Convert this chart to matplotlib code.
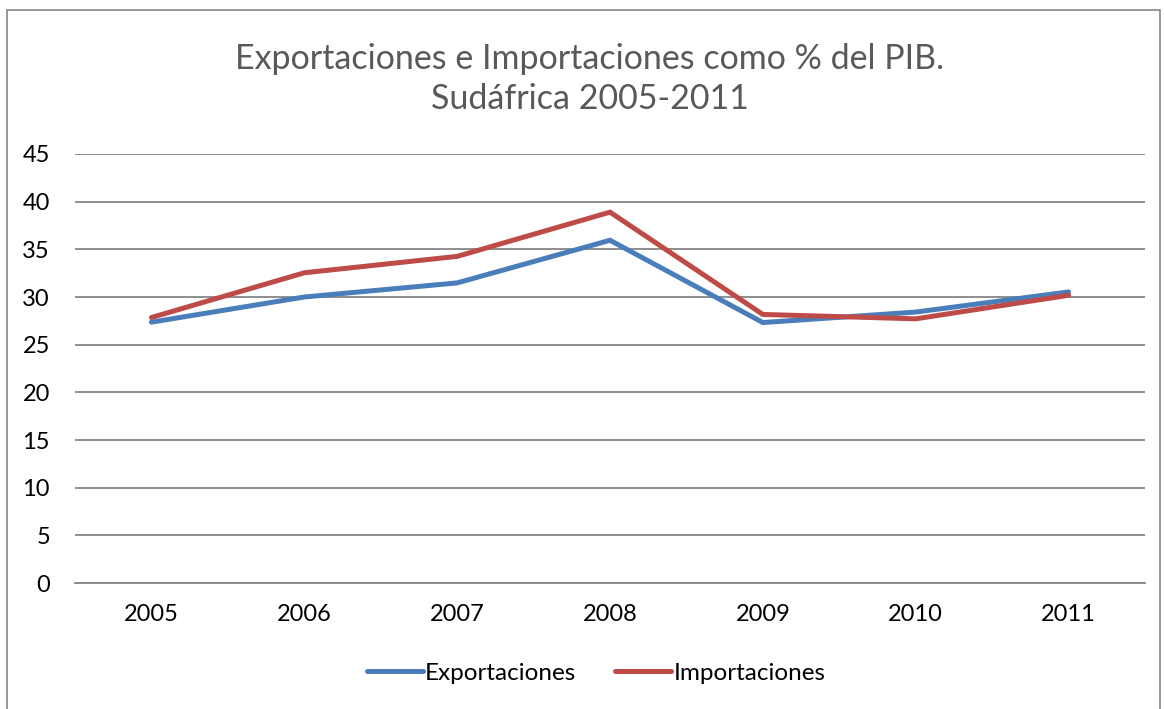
import matplotlib
matplotlib.use("Agg")
import matplotlib.pyplot as plt
from matplotlib.patches import Rectangle

years = ["2005", "2006", "2007", "2008", "2009", "2010", "2011"]
exportaciones = [27.36, 30.0, 31.48, 35.95, 27.32, 28.42, 30.53]
importaciones = [27.85, 32.54, 34.26, 38.9, 28.17, 27.71, 30.18]
yticks = [0, 5, 10, 15, 20, 25, 30, 35, 40, 45]

plt.rcParams['font.family'] = ['Lato', 'DejaVu Sans']

W, H = 1164, 709
fig = plt.figure(figsize=(W / 100, H / 100), dpi=100)
fig.patch.set_facecolor('white')

# outer border
fig.add_artist(Rectangle((7 / W, -0.01), (1160 - 7) / W, (H - 10) / H + 0.01,
                         transform=fig.transFigure, fill=False,
                         edgecolor='#868686', linewidth=1.2))

ax = fig.add_axes([75 / W, 1 - 583 / H, (1145 - 75) / W, (583 - 154) / H])
x = list(range(len(years)))
ax.plot(x, exportaciones, color='#4A7EBB', linewidth=3.6, label='Exportaciones',
        solid_capstyle='round', solid_joinstyle='miter')
ax.plot(x, importaciones, color='#BE4B48', linewidth=3.6, label='Importaciones',
        solid_capstyle='round', solid_joinstyle='miter')

ax.set_xlim(-0.5, len(years) - 0.5)
ax.set_ylim(0, 45)
ax.set_yticks(yticks)
ax.set_yticklabels([str(t) for t in yticks], fontsize=17, color='black')
ax.set_xticks(x)
ax.set_xticklabels(years, fontsize=17, color='black')
ax.tick_params(axis='both', length=0)
ax.tick_params(axis='y', pad=18)
ax.tick_params(axis='x', pad=15)
ax.grid(axis='y', color='#868686', linewidth=1.3)
ax.set_axisbelow(True)
for s in ['top', 'right', 'left']:
    ax.spines[s].set_visible(False)
ax.spines['bottom'].set_color('#868686')
ax.spines['bottom'].set_linewidth(1.3)

fig.text(590 / W, 1 - 79 / H, "Exportaciones e Importaciones como % del PIB.\nSudáfrica 2005-2011",
         ha='center', va='center', fontsize=24.5, color='#595959', linespacing=1.3)

leg = fig.legend(loc='center', bbox_to_anchor=(596 / W, 1 - 673 / H), ncol=2,
                 frameon=False, fontsize=17.5, handlelength=2.3, handletextpad=0.1,
                 columnspacing=1.6)

fig.savefig('out.png', dpi=100)
